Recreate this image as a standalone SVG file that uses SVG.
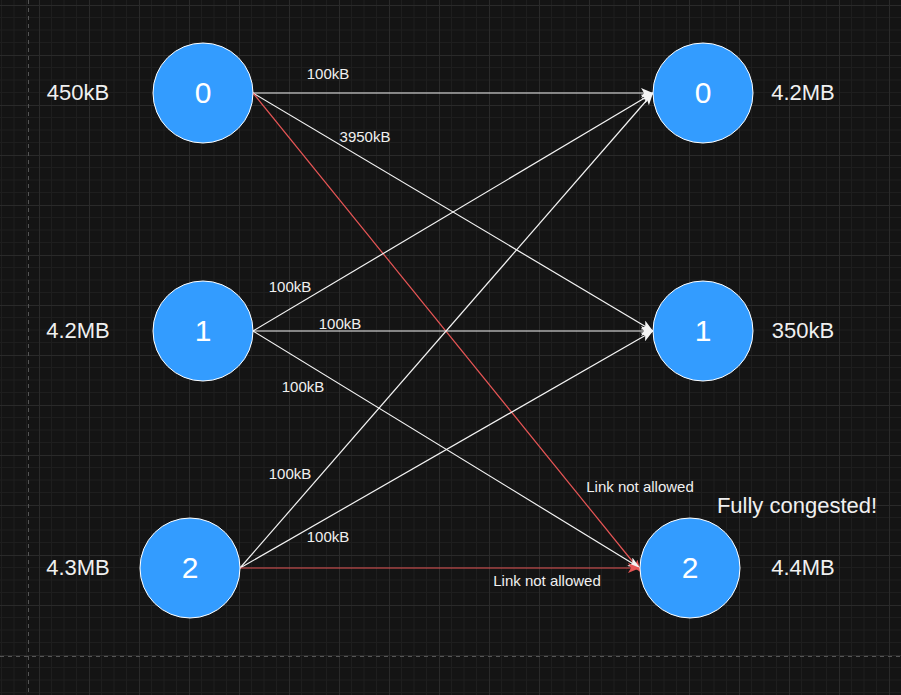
<svg xmlns="http://www.w3.org/2000/svg" width="901" height="695" viewBox="0 0 901 695">
<defs>
<pattern id="grid" patternUnits="userSpaceOnUse" x="39" y="5" width="50" height="50">
<path d="M12.5,0V50M25,0V50M37.5,0V50M0,12.5H50M0,25H50M0,37.5H50" stroke="#1e1e1e" stroke-width="1" fill="none"/>
<path d="M0.5,0V50M0,0.5H50" stroke="#2a2a2a" stroke-width="1" fill="none"/>
</pattern>
<marker id="aw" markerUnits="userSpaceOnUse" viewBox="0 0 12 10" refX="12" refY="5" markerWidth="12" markerHeight="10" orient="auto">
<path d="M0,0L12,5L0,10L3,5Z" fill="#f4f4f4"/>
</marker>
<marker id="ar" markerUnits="userSpaceOnUse" viewBox="0 0 12 10" refX="12" refY="5" markerWidth="12" markerHeight="10" orient="auto">
<path d="M0,0L12,5L0,10L3,5Z" fill="#e85656"/>
</marker>
</defs>
<style>
.node circle{fill:#339cff;stroke:#ffffff;stroke-width:1}
.node text{font-family:"Liberation Sans",Arial,sans-serif;font-size:30px;fill:#ffffff;text-anchor:middle;dominant-baseline:central}
.lbl{font-family:"Liberation Sans",Arial,sans-serif;font-size:22px;fill:#f0f0f0;text-anchor:middle;dominant-baseline:central}
.el{font-family:"Liberation Sans",Arial,sans-serif;font-size:15px;fill:#f0f0f0;text-anchor:middle;dominant-baseline:central}
.w{stroke:#f4f4f4;stroke-width:1.2;fill:none;marker-end:url(#aw)}
.r{stroke:#e85656;stroke-width:1.2;fill:none;marker-end:url(#ar)}
</style>
<rect width="901" height="695" fill="#141414"/>
<rect width="901" height="695" fill="url(#grid)"/>
<path d="M28.5,0V695M0,656.5H901" stroke="#555555" stroke-width="1" stroke-dasharray="4,4" fill="none"/>

<g id="connectors">
<line class="w" x1="253" y1="93" x2="653" y2="93"/>
<line class="w" x1="253" y1="93" x2="653" y2="331"/>
<line class="r" x1="253" y1="93" x2="641" y2="572"/>
<line class="w" x1="253" y1="331" x2="653" y2="93"/>
<line class="w" x1="253" y1="331" x2="653" y2="331"/>
<line class="w" x1="253" y1="331" x2="640" y2="568"/>
<line class="w" x1="240" y1="568" x2="653" y2="93"/>
<line class="w" x1="240" y1="568" x2="653" y2="331"/>
<line class="r" x1="240" y1="568" x2="640" y2="568"/>
<text class="el" x="328" y="73">100kB</text>
<text class="el" x="365" y="136">3950kB</text>
<text class="el" x="290" y="286">100kB</text>
<text class="el" x="340" y="323">100kB</text>
<text class="el" x="303" y="386">100kB</text>
<text class="el" x="290" y="473">100kB</text>
<text class="el" x="328" y="536">100kB</text>
<text class="el" x="640" y="486">Link not allowed</text>
<text class="el" x="547" y="580">Link not allowed</text>
</g>

<g id="src0" class="node"><circle cx="203" cy="93" r="50"/><text x="203" y="92">0</text></g>
<g id="src1" class="node"><circle cx="203" cy="331" r="50"/><text x="203" y="330">1</text></g>
<g id="src2" class="node"><circle cx="190" cy="568" r="50"/><text x="190" y="567">2</text></g>
<g id="dst0" class="node"><circle cx="703" cy="93" r="50"/><text x="703" y="92">0</text></g>
<g id="dst1" class="node"><circle cx="703" cy="331" r="50"/><text x="703" y="330">1</text></g>
<g id="dst2" class="node"><circle cx="690" cy="568" r="50"/><text x="690" y="567">2</text></g>

<g id="labels">
<text class="lbl" x="78" y="92">450kB</text>
<text class="lbl" x="78" y="330">4.2MB</text>
<text class="lbl" x="78" y="567">4.3MB</text>
<text class="lbl" x="803" y="92">4.2MB</text>
<text class="lbl" x="803" y="330">350kB</text>
<text class="lbl" x="803" y="567">4.4MB</text>
<text class="lbl" x="797" y="505">Fully congested!</text>
</g>
</svg>
